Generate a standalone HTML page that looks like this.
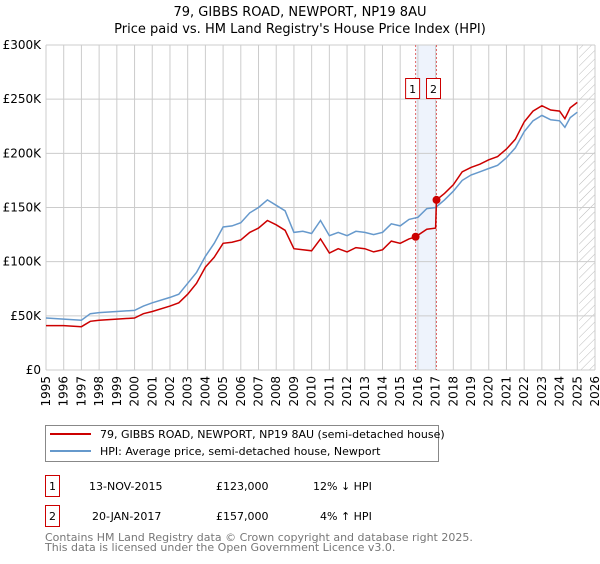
<!DOCTYPE html>
<html><head><meta charset="utf-8"><style>
body{margin:0;background:#fff;font-family:"DejaVu Sans","Liberation Sans",sans-serif;}
svg text{font-family:"DejaVu Sans","Liberation Sans",sans-serif;}
</style></head><body>
<svg id="chart" width="600" height="560" xmlns="http://www.w3.org/2000/svg">
<defs><pattern id="hatch" width="6" height="6" patternUnits="userSpaceOnUse" patternTransform="rotate(45)"><line x1="0" y1="0" x2="0" y2="6" stroke="#bbb" stroke-width="1"/></pattern></defs>
<text x="300" y="16" font-size="13" text-anchor="middle">79, GIBBS ROAD, NEWPORT, NP19 8AU</text>
<text x="300" y="33" font-size="13" text-anchor="middle">Price paid vs. HM Land Registry's House Price Index (HPI)</text>
<g id="grid"></g><g id="marks"></g><g id="axes"></g>
<g>
<rect x="45.5" y="425.5" width="393" height="36" fill="#fff" stroke="#888"/>
<line x1="50" y1="434" x2="91" y2="434" stroke="#cc0000" stroke-width="2"/>
<text x="100" y="438" font-size="11">79, GIBBS ROAD, NEWPORT, NP19 8AU (semi-detached house)</text>
<line x1="50" y1="451" x2="91" y2="451" stroke="#6699cc" stroke-width="2"/>
<text x="100" y="455" font-size="11">HPI: Average price, semi-detached house, Newport</text>
</g>
<g font-size="11">
<rect x="45.5" y="475.5" width="14" height="21" fill="#fff" stroke="#cc0000"/><text x="52.5" y="490" text-anchor="middle">1</text>
<text x="89" y="490">13-NOV-2015</text><text x="216" y="490">£123,000</text><text x="313" y="490">12% ↓ HPI</text>
<rect x="45.5" y="505.5" width="14" height="21" fill="#fff" stroke="#cc0000"/><text x="52.5" y="520" text-anchor="middle">2</text>
<text x="92" y="520">20-JAN-2017</text><text x="216" y="520">£157,000</text><text x="320" y="520">4% ↑ HPI</text>
</g>
<text x="45" y="541" font-size="11" fill="#777">Contains HM Land Registry data © Crown copyright and database right 2025.</text>
<text x="45" y="551" font-size="11" fill="#777">This data is licensed under the Open Government Licence v3.0.</text>
</svg>
<script>
const hpiYears=[1995,1996,1997,1997.5,1998,1999,2000,2000.5,2001,2002,2002.5,2003,2003.5,2004,2004.5,2005,2005.5,2006,2006.5,2007,2007.5,2008,2008.5,2009,2009.5,2010,2010.5,2011,2011.5,2012,2012.5,2013,2013.5,2014,2014.5,2015,2015.5,2016,2016.5,2017,2017.5,2018,2018.5,2019,2019.5,2020,2020.5,2021,2021.5,2022,2022.5,2023,2023.5,2024,2024.3,2024.6,2025];
const hpiValues=[48,47,46,52,53,54,55,59,62,67,70,80,90,105,117,132,133,136,145,150,157,152,147,127,128,126,138,124,127,124,128,127,125,127,135,133,139,141,149,150,157,165,175,180,183,186,189,196,205,220,230,235,231,230,224,233,238];
const priceYears=[1995,1996,1997,1997.5,1998,1999,2000,2000.5,2001,2002,2002.5,2003,2003.5,2004,2004.5,2005,2005.5,2006,2006.5,2007,2007.5,2008,2008.5,2009,2009.5,2010,2010.5,2011,2011.5,2012,2012.5,2013,2013.5,2014,2014.5,2015,2015.5,2015.87,2016.5,2017,2017.05,2017.5,2018,2018.5,2019,2019.5,2020,2020.5,2021,2021.5,2022,2022.5,2023,2023.5,2024,2024.3,2024.6,2025];
const priceValues=[41,41,40,45,46,47,48,52,54,59,62,70,80,95,104,117,118,120,127,131,138,134,129,112,111,110,121,108,112,109,113,112,109,111,119,117,121,123,130,131,157,163,171,183,187,190,194,197,204,213,229,239,244,240,239,232,242,247];
const saleYears=[2015.87,2017.05];
const saleValues=[123,157];
const saleLabels=["1","2"];
const yTicks=[0,50,100,150,200,250,300];
const yTickLabels=["£0","£50K","£100K","£150K","£200K","£250K","£300K"];
const xTicks=[1995,1996,1997,1998,1999,2000,2001,2002,2003,2004,2005,2006,2007,2008,2009,2010,2011,2012,2013,2014,2015,2016,2017,2018,2019,2020,2021,2022,2023,2024,2025,2026];
const X0=46,X1=595,Y0=370,Y1=45;
const xs=y=>X0+(y-1995)/(2026-1995)*(X1-X0);
const ys=v=>Y0-v/300*(Y0-Y1);
const NS="http://www.w3.org/2000/svg";
function mk(p,t,a){const e=document.createElementNS(NS,t);for(const k in a)e.setAttribute(k,a[k]);p.appendChild(e);return e;}
const grid=document.getElementById('grid'),marks=document.getElementById('marks'),axes=document.getElementById('axes');
const bg=mk(grid,'rect',{x:X0,y:Y1,width:X1-X0,height:Y0-Y1,fill:'#fff'});


const band=mk(grid,'rect',{x:xs(saleYears[0]),y:Y1,width:xs(saleYears[1])-xs(saleYears[0]),height:Y0-Y1,fill:'#eef3fc'});


const hatch=mk(grid,'rect',{x:xs(2025.1),y:Y1,width:X1-xs(2025.1),height:Y0-Y1,fill:'url(#hatch)'});


xTicks.forEach(t=>{const l=mk(grid,'line',{x1:xs(t),x2:xs(t),y1:Y1,y2:Y0,stroke:'#ccc'});


const tx=mk(axes,'text',{x:0,y:0,'font-size':12,'text-anchor':'end',transform:`translate(${xs(t)+4},${Y0+6}) rotate(-90)`});tx.textContent=t;

});
yTicks.forEach((t,i)=>{const l=mk(grid,'line',{x1:X0,x2:X1,y1:ys(t),y2:ys(t),stroke:'#ccc'});


const tx=mk(axes,'text',{x:X0-5,y:ys(t)+4,'font-size':12,'text-anchor':'end'});tx.textContent=yTickLabels[i];

});
saleYears.forEach((s,i)=>{const l=mk(marks,'line',{x1:xs(s),x2:xs(s),y1:Y1,y2:Y0,stroke:'#e06666','stroke-dasharray':'2,2'});

});
function path(xv,yv,c,name){const d=xv.map((x,i)=>(i?'L':'M')+xs(x).toFixed(1)+','+ys(yv[i]).toFixed(1)).join('');
const p=mk(marks,'path',{d:d,fill:'none',stroke:c,'stroke-width':1.5});

}
path(hpiYears,hpiValues,'#6699cc','hpi-line');
path(priceYears,priceValues,'#cc0000','price-line');
saleYears.forEach((s,i)=>{const c=mk(marks,'circle',{cx:xs(s),cy:ys(saleValues[i]),r:4,fill:'#cc0000'});


const bx=xs(s)-3;
const r=mk(marks,'rect',{x:bx-7,y:78.5,width:14,height:20,fill:'#fff',stroke:'#cc0000'});


const t=mk(marks,'text',{x:bx,y:93,'font-size':11,'text-anchor':'middle'});t.textContent=saleLabels[i];

});
</script>
</body></html>
